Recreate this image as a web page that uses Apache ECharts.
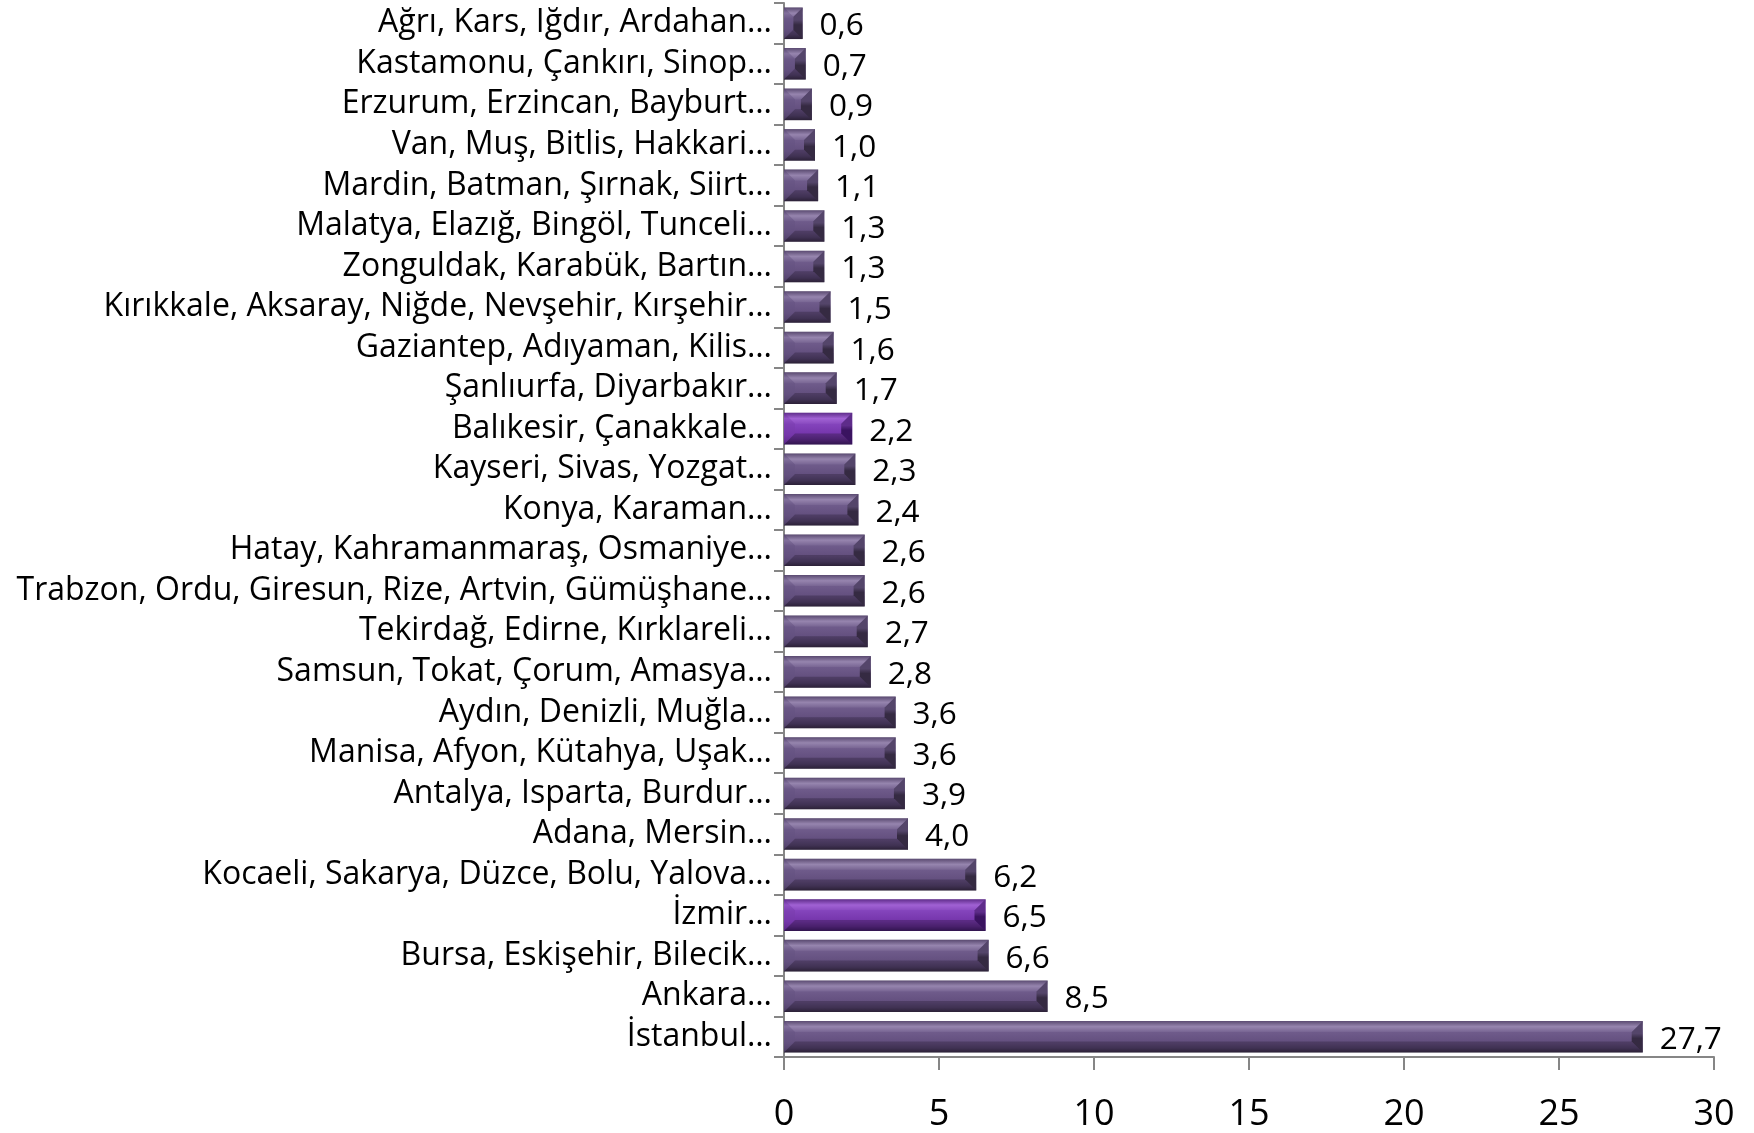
<!DOCTYPE html>
<html><head><meta charset="utf-8">
<script src="https://cdn.jsdelivr.net/npm/echarts@6/dist/echarts.min.js"></script>
<style>html,body{margin:0;padding:0;background:#fff}#c{width:1754px;height:1133px}</style>
</head><body><div id="c"></div>
<script>
var categories = [
 "İstanbul…","Ankara…","Bursa, Eskişehir, Bilecik…","İzmir…","Kocaeli, Sakarya, Düzce, Bolu, Yalova…",
 "Adana, Mersin…","Antalya, Isparta, Burdur…","Manisa, Afyon, Kütahya, Uşak…","Aydın, Denizli, Muğla…",
 "Samsun, Tokat, Çorum, Amasya…","Tekirdağ, Edirne, Kırklareli…","Trabzon, Ordu, Giresun, Rize, Artvin, Gümüşhane…",
 "Hatay, Kahramanmaraş, Osmaniye…","Konya, Karaman…","Kayseri, Sivas, Yozgat…","Balıkesir, Çanakkale…",
 "Şanlıurfa, Diyarbakır…","Gaziantep, Adıyaman, Kilis…","Kırıkkale, Aksaray, Niğde, Nevşehir, Kırşehir…",
 "Zonguldak, Karabük, Bartın…","Malatya, Elazığ, Bingöl, Tunceli…","Mardin, Batman, Şırnak, Siirt…",
 "Van, Muş, Bitlis, Hakkari…","Erzurum, Erzincan, Bayburt…","Kastamonu, Çankırı, Sinop…","Ağrı, Kars, Iğdır, Ardahan…"
];
var values = [27.7,8.5,6.6,6.5,6.2,4.0,3.9,3.6,3.6,2.8,2.7,2.6,2.6,2.4,2.3,2.2,1.7,1.6,1.5,1.3,1.3,1.1,1.0,0.9,0.7,0.6];
var highlighted = ["İzmir…","Balıkesir, Çanakkale…"];
var xTicks = [0,5,10,15,20,25,30];

var FONT = "Open Sans";
function bodyGrad(hl){
  var c = hl ? ['#4e1f78','#a464d8','#8444bc','#7434aa','#5c268a','#3a1560']
             : ['#4a3a60','#9a88b2','#6f5b8b','#624e7d','#4f3f66','#32273e'];
  return new echarts.graphic.LinearGradient(0,0,0,1,[
    {offset:0,color:c[0]},{offset:0.18,color:c[1]},{offset:0.36,color:c[2]},
    {offset:0.7,color:c[3]},{offset:0.86,color:c[4]},{offset:1,color:c[5]}]);
}
var barData = values.map(function(v,i){
  var hl = highlighted.indexOf(categories[i])>=0;
  return {value:v, itemStyle:{color:bodyGrad(hl)}};
});
var BW = 0.78;
var chart = echarts.init(document.getElementById('c'),null,{renderer:'canvas'});
chart.setOption({
  animation:false,
  grid:{left:784,right:40,top:3,bottom:73,containLabel:false},
  xAxis:{type:'value',min:0,max:30,interval:5,
    axisLine:{show:true,lineStyle:{color:'#868686',width:2}},
    axisTick:{show:true,length:13,lineStyle:{color:'#868686',width:2}},
    splitLine:{show:false},
    axisLabel:{fontFamily:FONT,fontSize:36,color:'#000',margin:40,
      formatter:function(v){return xTicks.indexOf(v)>=0?String(v):'';}}
  },
  yAxis:{type:'category',data:categories,
    axisLine:{show:true,lineStyle:{color:'#868686',width:2}},
    axisTick:{show:true,length:10,interval:0,lineStyle:{color:'#868686',width:2}},
    axisLabel:{fontFamily:FONT,fontSize:32,color:'#000',margin:12,interval:0}
  },
  series:[
    {type:'bar',data:barData,barWidth:(BW*100)+'%',
     label:{show:true,position:'right',distance:17,offset:[0,3],fontFamily:FONT,fontSize:31.5,color:'#000',
       formatter:function(p){return p.value.toFixed(1).replace('.',',');}}},
    {type:'custom',z:3,silent:true,
     data:values.map(function(v,i){return [v,i];}),
     encode:{x:0,y:1},
     renderItem:function(params,api){
       var v=api.value(0), i=api.value(1);
       var hl = highlighted.indexOf(categories[i])>=0;
       var p0=api.coord([0,i]), p1=api.coord([v,i]);
       var band=api.size([0,1])[1];
       var h=band*BW;
       var x0=p0[0], x1=p1[0], y0=p0[1]-h/2, y1=p0[1]+h/2;
       var b=Math.min(11,h/2.2,(x1-x0)/2);
       var dark = hl ? '#3a1360' : '#352a42';
       var darkMid = hl ? '#5e2c8a' : '#54456a';
       return {type:'group',children:[
         {type:'polygon',shape:{points:[[x1-b,y0+b],[x1,y0],[x1,y1],[x1-b,y1-b]]},
          style:{fill:new echarts.graphic.LinearGradient(0,0,0,1,[{offset:0,color:darkMid},{offset:0.4,color:darkMid},{offset:0.55,color:dark},{offset:1,color:dark}])}},
         {type:'polygon',shape:{points:[[x0,y0],[x0+b,y0+b],[x0+b,y1-b],[x0,y1]]},
          style:{fill:hl?'rgba(120,60,170,0.45)':'rgba(100,82,128,0.45)'}},
         {type:'polygon',shape:{points:[[x0,y0],[x1,y0],[x1-b,y0+b],[x0+b,y0+b]]},
          style:{fill:hl?'rgba(150,90,200,0.25)':'rgba(140,122,165,0.25)'}},
         {type:'polygon',shape:{points:[[x0+b,y1-b],[x1-b,y1-b],[x1,y1],[x0,y1]]},
          style:{fill:'rgba(30,20,40,0.3)'}}
       ]};
     }}
  ]
});
</script></body></html>
